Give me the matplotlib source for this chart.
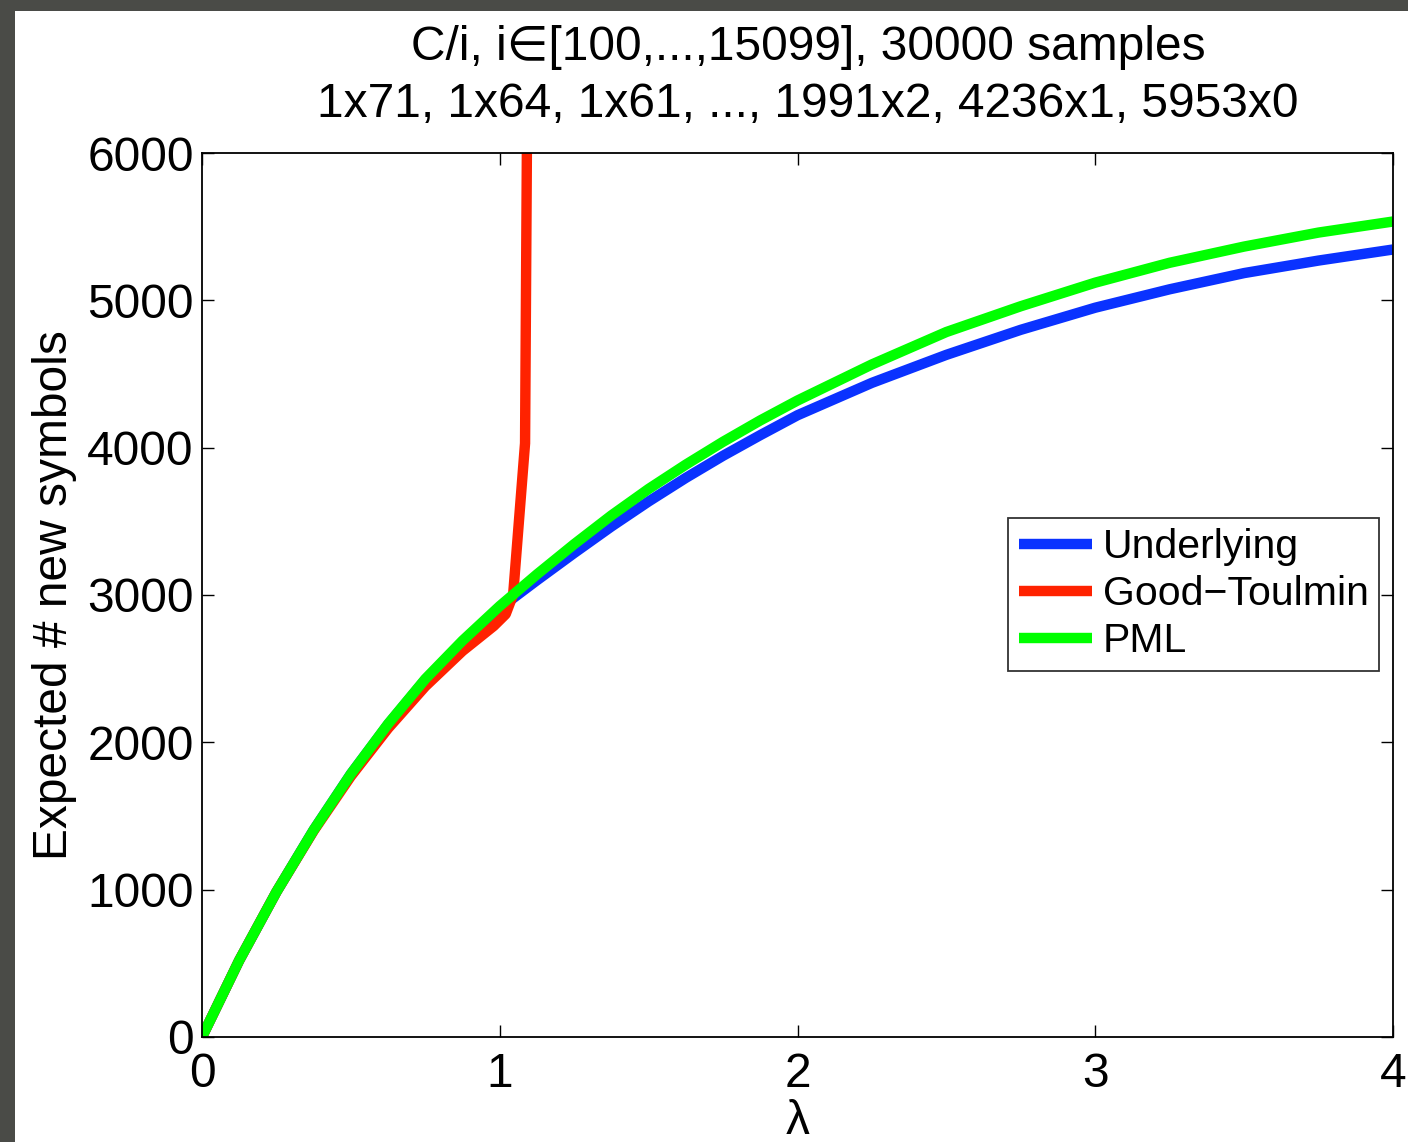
import matplotlib
matplotlib.use('Agg')
import matplotlib.pyplot as plt
from matplotlib.patches import Rectangle

plt.rcParams['font.family'] = ['Liberation Sans', 'DejaVu Sans']

# lambda grid and curve values
lam = [0, 0.125, 0.25, 0.375, 0.5, 0.625, 0.75, 0.875, 1.0, 1.125, 1.25, 1.375, 1.5,
       1.625, 1.75, 1.875, 2.0, 2.25, 2.5, 2.75, 3.0, 3.25, 3.5, 3.75, 4.0]
underlying = [0, 520, 985, 1405, 1785, 2122, 2425, 2680, 2910, 3100, 3285, 3465, 3635,
              3795, 3945, 4085, 4220, 4440, 4630, 4800, 4950, 5075, 5185, 5270, 5345]
pml = [0, 520, 985, 1405, 1785, 2125, 2430, 2690, 2925, 3140, 3345, 3540, 3720,
       3885, 4040, 4185, 4320, 4565, 4785, 4960, 5120, 5255, 5365, 5460, 5535]

lam_gt = [0, 0.125, 0.25, 0.375, 0.5, 0.625, 0.75, 0.875, 0.98, 1.02, 1.045, 1.085, 1.125]
good_toulmin = [0, 520, 985, 1400, 1770, 2095, 2380, 2620, 2790, 2870, 3003, 4030, 17000]

title_lines = ['C/i, i\u2208[100,...,15099], 30000 samples',
               '1x71, 1x64, 1x61, ..., 1991x2, 4236x1, 5953x0']

fig = plt.figure(figsize=(14.08, 11.42), dpi=100)
fig.patch.set_facecolor('#4a4b47')
# white sheet, with the dark frame showing at the left and top
sheet = Rectangle((15/1408, 0), 1, (1142-11)/1142, transform=fig.transFigure,
                  facecolor='white', edgecolor='none', zorder=-5)
fig.add_artist(sheet)

ax = fig.add_axes([202/1408, 105/1142, 1191/1408, 884/1142])
ax.plot(lam, underlying, color='#0a32ff', lw=7.5, label='Underlying', solid_capstyle='butt')
ax.plot(lam_gt, good_toulmin, color='#ff2200', lw=7.5, label='Good\u2212Toulmin', solid_capstyle='butt')
ax.plot(lam, pml, color='#00ff00', lw=7.5, label='PML', solid_capstyle='butt')

ax.set_xlim(0, 4)
ax.set_ylim(0, 6000)
ax.set_xticks([0, 1, 2, 3, 4])
ax.set_yticks(range(0, 6001, 1000))
ax.tick_params(direction='in', length=8.5, width=1, top=True, right=True, labelsize=34.5)
ax.tick_params(axis='x', pad=11)
ax.tick_params(axis='y', pad=6)
for s in ax.spines.values():
    s.set_linewidth(1.3)

ax.set_xlabel('\u03bb', fontsize=34.5, labelpad=1)
ax.set_ylabel('Expected # new symbols', fontsize=34.5, labelpad=7)
ax.set_title('\n'.join(title_lines), fontsize=34.5, pad=26, linespacing=1.35, x=0.509)

leg = ax.legend(loc='upper left', bbox_to_anchor=(0.677, 0.587), fontsize=29.5,
                frameon=True, fancybox=False, edgecolor='black', handlelength=1.8,
                handletextpad=0.25, labelspacing=0.22, borderpad=0.25, borderaxespad=0)
leg.get_frame().set_linewidth(1.3)

fig.savefig('out.png', dpi=100, facecolor=fig.get_facecolor())
